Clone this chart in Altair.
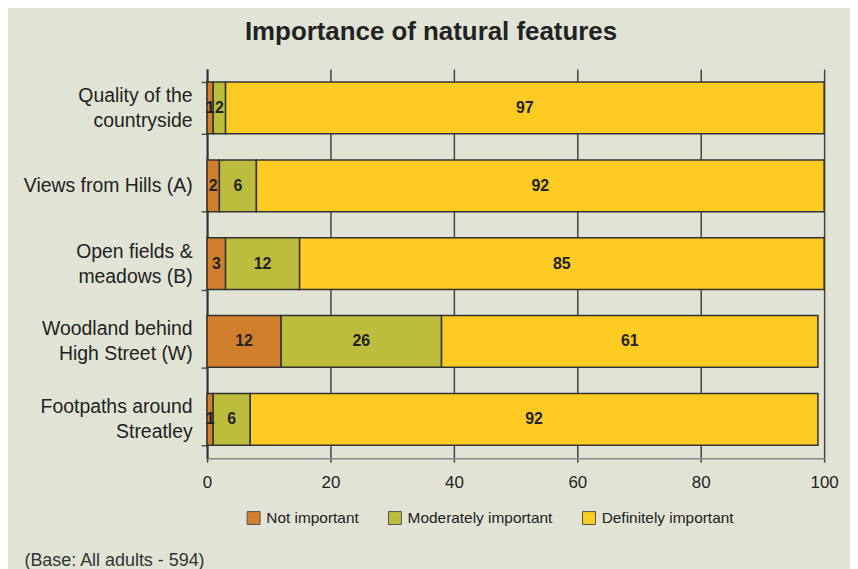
import altair as alt
import pandas as pd

features = ["Quality of the\ncountryside", "Views from Hills (A)", "Open fields &\nmeadows (B)",
            "Woodland behind\nHigh Street (W)", "Footpaths around\nStreatley"]
levels = ["Not important", "Moderately important", "Definitely important"]
not_important = [1, 2, 3, 12, 1]
moderately = [2, 6, 12, 26, 6]
definitely = [97, 92, 85, 61, 92]
colors = ["#d0802c", "#bdbd3d", "#fdcb22"]
x_ticks = [0, 20, 40, 60, 80, 100]

rows = []
for i, f in enumerate(features):
    for j, (lvl, vals) in enumerate(zip(levels, [not_important, moderately, definitely])):
        rows.append({"feature": f, "level": lvl, "value": vals[i], "order": j})
df = pd.DataFrame(rows)

FONT = "Liberation Sans"
BG = "#e1e4d5"

base = alt.Chart(df).transform_stack(
    stack="value", groupby=["feature"], as_=["x0", "x1"],
    sort=[alt.SortField("order", order="ascending")]
).transform_calculate(mid="(datum.x0 + datum.x1) / 2")

y_enc = alt.Y("feature:N", sort=features, title=None,
              scale=alt.Scale(paddingInner=0.335, paddingOuter=0.1675),
              axis=alt.Axis(labelExpr="split(datum.label, '\\n')", labelFontSize=19.5,
                            labelFont=FONT, labelColor="#222", labelLineHeight=25,
                            labelOffset={"condition": {"test": "indexof(datum.label, '\\n') >= 0",
                                                       "value": -12.5},
                                         "value": 0},
                            labelPadding=9, tickSize=6, tickBand="extent",
                            tickColor="#555", tickWidth=1.5, domainColor="#333",
                            domainWidth=2, grid=False, labelAlign="right"))

bars = base.mark_bar(stroke="#333", strokeWidth=1.5).encode(
    x=alt.X("x0:Q", scale=alt.Scale(domain=[0, 100], nice=False),
            title="(Base: All adults - 594)",
            axis=alt.Axis(values=x_ticks, labelFontSize=17, labelFont=FONT,
                          labelColor="#222", tickSize=4, tickColor="#444",
                          tickWidth=1.5, labelPadding=12, labelFlush=False,
                          domainColor="#888",
                          domainWidth=1.5, grid=True, gridColor="#444",
                          gridWidth=1.5, titleFont=FONT, titleFontSize=18,
                          titleFontWeight="normal", titleColor="#333",
                          titleAnchor="start", titleAlign="left",
                          titleX=-184, titleY=103, titleBaseline="middle")),
    x2="x1:Q",
    y=y_enc,
    color=alt.Color("level:N", scale=alt.Scale(domain=levels, range=colors),
                    legend=alt.Legend(title=None, orient="none", direction="horizontal",
                                      legendX=39, legendY=443, symbolType="square",
                                      symbolSize=169, symbolStrokeColor="#555",
                                      symbolStrokeWidth=1, labelFontSize=15.5,
                                      labelFont=FONT, labelColor="#222",
                                      labelOffset=5, columnPadding=27)),
    order=alt.Order("order:Q"),
)

labels = base.mark_text(font=FONT, fontSize=16, fontWeight="bold", color="#222").encode(
    x=alt.X("mid:Q"),
    y=alt.Y("feature:N", sort=features),
    text=alt.Text("value:Q"),
)

chart = alt.layer(bars, labels).properties(
    width=620, height=391,
    title=alt.TitleParams("Importance of natural features", font=FONT, fontSize=26,
                          fontWeight="bold", color="#222", anchor="middle",
                          dx=-85, offset=14),
    autosize=alt.AutoSizeParams(type="none"),
    padding={"left": 200, "top": 60, "right": 26, "bottom": 110},
    background=BG,
).configure_view(stroke=None)

chart.save("out.html", embed_options={"renderer": "svg", "actions": False})
